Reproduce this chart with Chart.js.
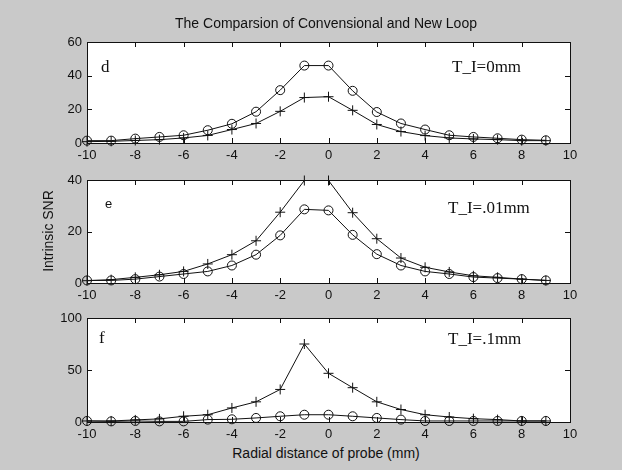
<!DOCTYPE html>
<html>
<head>
<meta charset="utf-8">
<script src="https://cdn.jsdelivr.net/npm/chart.js@4"></script>
<style>
  body { margin: 0; background: #c9c9c9; }
  #wrap { position: relative; width: 622px; height: 470px; background: #c9c9c9; overflow: hidden; }
  canvas { position: absolute; left: 0; }
  .txt { position: absolute; white-space: nowrap; color: #111; }
  .sans { font-family: "Liberation Sans", Arial, sans-serif; }
  .serif { font-family: "Liberation Serif", "Times New Roman", serif; }
</style>
</head>
<body>
<div id="wrap">
  <canvas id="chartD" width="622" height="165" style="top:0px"></canvas>
  <canvas id="chartE" width="622" height="140" style="top:165px"></canvas>
  <canvas id="chartF" width="622" height="140" style="top:305px"></canvas>

  <div class="txt sans" style="left:326px; top:15px; font-size:14px; line-height:16px; transform:translateX(-50%)">The Comparsion of Convensional and New Loop</div>
  <div class="txt sans" style="left:48px; top:231px; font-size:14px; line-height:16px; transform:translate(-50%,-50%) rotate(-90deg)">Intrinsic SNR</div>
  <div class="txt sans" style="left:326px; top:445px; font-size:14px; line-height:16px; transform:translateX(-50%)">Radial distance of probe (mm)</div>

  <div class="txt serif" style="left:101px; top:58px; font-size:17px; line-height:17px">d</div>
  <div class="txt serif" style="left:452px; top:58px; font-size:17px; line-height:17px">T_I=0mm</div>
  <div class="txt sans" style="left:105px; top:196px; font-size:13px; line-height:15px">e</div>
  <div class="txt serif" style="left:448px; top:199px; font-size:17px; line-height:17px">T_I=.01mm</div>
  <div class="txt serif" style="left:99px; top:329px; font-size:17px; line-height:17px">f</div>
  <div class="txt serif" style="left:448px; top:330px; font-size:17px; line-height:17px">T_I=.1mm</div>
</div>

<script>
// radial distance (mm)
const xValues = [-10, -9, -8, -7, -6, -5, -4, -3, -2, -1, 0, 1, 2, 3, 4, 5, 6, 7, 8, 9];

// panel d : T_I = 0mm
const dCircle = [1.4, 1.4, 2.6, 3.6, 4.6, 7.6, 11.4, 18.6, 31.4, 46, 46, 31, 18.4, 11.6, 8, 4.6, 3.6, 2.8, 2, 1.6];
const dPlus = [0.8, 1, 1.5, 2, 3, 4.5, 8, 11.6, 18.8, 27, 27.5, 19.4, 11, 6.8, 4.4, 3, 2.4, 2, 1.4, 1.4];

// panel e : T_I = .01mm
const eCircle = [1, 1, 1.5, 2.5, 3.5, 4.5, 6.8, 11, 18.5, 28.6, 28.2, 18.7, 11.2, 6.8, 4.5, 3.5, 2.3, 1.9, 1.5, 1];
const ePlus = [0.9, 1.3, 2.2, 3.2, 4.5, 7.4, 11, 16.4, 27.5, 39.8, 39.8, 27.3, 17.2, 9.7, 6.1, 4.3, 2.8, 2.2, 1.5, 1];

// panel f : T_I = .1mm
const fCircle = [1, 0.6, 1, 0.6, 0.6, 2.3, 2.6, 3.9, 5.5, 7, 7, 5.5, 3.9, 2.3, 1, 1, 1, 1, 1, 1];
const fPlus = [1, 1, 2, 3, 5.5, 7, 13.5, 19.4, 31.3, 75, 46.8, 33, 19.4, 12, 7, 4.8, 3.2, 2.3, 1, 1];

// axis limits / ticks
const xTicks = [-10, -8, -6, -4, -2, 0, 2, 4, 6, 8, 10];
const dYTicks = [0, 20, 40, 60];
const eYTicks = [0, 20, 40];
const fYTicks = [0, 50, 100];

const INK = "#111";

// white plot area, black frame and inward ticks on all four sides (matlab look)
const matlabBox = {
  id: "matlabBox",
  beforeDraw(chart) {
    const { ctx, chartArea: a } = chart;
    ctx.save();
    ctx.fillStyle = "#fff";
    ctx.fillRect(a.left, a.top, a.right - a.left, a.bottom - a.top);
    ctx.restore();
  },
  afterDraw(chart) {
    const { ctx, chartArea: a, scales } = chart;
    const len = 5;
    ctx.save();
    ctx.strokeStyle = INK;
    ctx.lineWidth = 1;
    ctx.beginPath();
    scales.x.ticks.forEach((t) => {
      const px = Math.round(scales.x.getPixelForValue(t.value)) + 0.5;
      ctx.moveTo(px, a.bottom);
      ctx.lineTo(px, a.bottom - len);
      ctx.moveTo(px, a.top);
      ctx.lineTo(px, a.top + len);
    });
    scales.y.ticks.forEach((t) => {
      const py = Math.round(scales.y.getPixelForValue(t.value)) + 0.5;
      ctx.moveTo(a.left, py);
      ctx.lineTo(a.left + len, py);
      ctx.moveTo(a.right, py);
      ctx.lineTo(a.right - len, py);
    });
    ctx.stroke();
    ctx.strokeRect(Math.round(a.left) + 0.5, Math.round(a.top) + 0.5,
      Math.round(a.right - a.left), Math.round(a.bottom - a.top));
    ctx.restore();
  },
};

function makePanel(id, circle, plus, yTicks, pad, xAxisHeight) {
  const toPoints = (arr) => xValues.map((x, i) => ({ x: x, y: arr[i] }));
  const yMax = yTicks[yTicks.length - 1];
  return new Chart(document.getElementById(id).getContext("2d"), {
    type: "scatter",
    data: {
      datasets: [
        {
          label: "conventional",
          data: toPoints(circle),
          showLine: true,
          borderColor: INK,
          backgroundColor: "transparent",
          borderWidth: 1,
          pointStyle: "circle",
          pointRadius: 4.5,
          pointBorderWidth: 1,
          clip: false,
        },
        {
          label: "new",
          data: toPoints(plus),
          showLine: true,
          borderColor: INK,
          backgroundColor: "transparent",
          borderWidth: 1,
          pointStyle: "cross",
          pointRadius: 5,
          pointBorderWidth: 1,
          clip: false,
        },
      ],
    },
    options: {
      responsive: false,
      animation: false,
      layout: { padding: { left: 0, right: 52, top: pad, bottom: 0 } },
      plugins: {
        legend: { display: false },
        tooltip: { enabled: false },
      },
      scales: {
        x: {
          type: "linear",
          min: -10,
          max: 10,
          afterBuildTicks: (scale) => {
            scale.ticks = xTicks.map((v) => ({ value: v }));
          },
          afterFit: (scale) => {
            scale.height = xAxisHeight;
          },
          grid: { display: false, drawTicks: false },
          border: { display: false },
          ticks: {
            color: INK,
            padding: 5,
            maxRotation: 0,
            autoSkip: false,
            font: { family: "Liberation Sans", size: 13 },
          },
        },
        y: {
          min: 0,
          max: yMax,
          afterBuildTicks: (scale) => {
            scale.ticks = yTicks.map((v) => ({ value: v }));
          },
          afterFit: (scale) => {
            scale.width = 87;
          },
          grid: { display: false, drawTicks: false },
          border: { display: false },
          ticks: {
            color: INK,
            padding: 5,
            font: { family: "Liberation Sans", size: 13 },
          },
        },
      },
    },
    plugins: [matlabBox],
  });
}

makePanel("chartD", dCircle, dPlus, dYTicks, 42, 22);
makePanel("chartE", eCircle, ePlus, eYTicks, 15, 22);
makePanel("chartF", fCircle, fPlus, fYTicks, 13, 23);
</script>
</body>
</html>
